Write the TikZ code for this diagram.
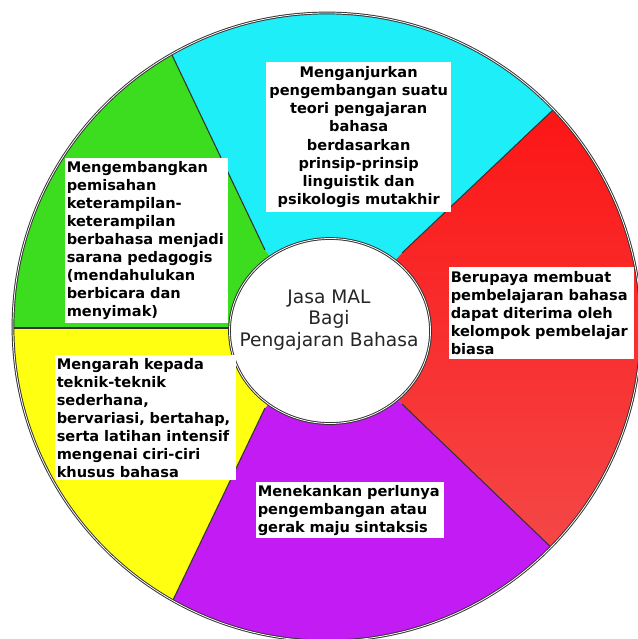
\documentclass[tikz,border=0pt]{standalone}
\usepackage{fontspec}
\setmainfont{DejaVu Sans}
\usepackage{tikz}
\usetikzlibrary{calc}
\definecolor{wheelCyan}{HTML}{1EEEF8}
\definecolor{wheelRedTop}{HTML}{FF0505}
\definecolor{wheelRedLow}{HTML}{F25858}
\definecolor{wheelPurple}{HTML}{C31BF3}
\definecolor{wheelYellow}{HTML}{FFFF12}
\definecolor{wheelGreen}{HTML}{3CDC1E}
\definecolor{rimGrey}{HTML}{333333}
\tikzset{
  sectorline/.style={draw=rimGrey, line width=0.6pt},
  rimline/.style={draw=rimGrey, double=white, double distance=0.45pt, line width=0.55pt},
  notebox/.style={rectangle, fill=white, anchor=north west, inner xsep=0.8pt, inner ysep=1.5pt, font=\fontsize{8.3}{10.3}\selectfont\bfseries, text=black, text width=#1, align=left},
  hubtext/.style={font=\fontsize{10.6}{12.2}\selectfont, text=black!85, align=center, inner sep=0pt},
}

\begin{document}
\begin{tikzpicture}[x=0.02cm,y=-0.02cm]
  \useasboundingbox (0,0) rectangle (638,639);
  \fill[white] (0,0) rectangle (638,639);

  % --- inner and outer ends of the dividing lines ---
  \coordinate (hubc) at (330,331);
  \coordinate (in1) at (265,250);  \coordinate (out1) at (172,55);
  \coordinate (in2) at (402,253);  \coordinate (out2) at (555,108);
  \coordinate (in3) at (402,404);  \coordinate (out3) at (557,553);
  \coordinate (in4) at (265,408);  \coordinate (out4) at (173,600);
  \coordinate (in5) at (229,328);  \coordinate (out5) at (13,328);
  \foreach \i in {1,...,5} { \coordinate (far\i) at ($(in\i)!2!(out\i)$); }

  % --- sectors ---
  \begin{scope}
    \clip (327,327) circle[radius=314];
    \fill[wheelCyan] (hubc) -- (in1) -- (far1) -- (330,-300) -- (far2) -- (in2) -- cycle;
    \shade[top color=wheelRedTop, bottom color=wheelRedLow] (hubc) -- (in2) -- (far2) -- (1000,330) -- (far3) -- (in3) -- cycle;
    \fill[wheelPurple] (hubc) -- (in3) -- (far3) -- (330,1000) -- (far4) -- (in4) -- cycle;
    \fill[wheelYellow] (hubc) -- (in4) -- (far4) -- (-200,700) -- (far5) -- (in5) -- cycle;
    \fill[wheelGreen] (hubc) -- (in5) -- (far5) -- (-200,-50) -- (far1) -- (in1) -- cycle;
    \foreach \i in {1,...,5} { \draw[sectorline] (in\i) -- (out\i); }
  \end{scope}
  \draw[rimline] (327,327) circle[radius=314];

  % --- hub ---
  \filldraw[fill=white, rimline] (hubc) ellipse[x radius=100.5, y radius=92.5];
  \node[hubtext] (hub) at (329,320) {Jasa MAL\\Bagi\\Pengajaran Bahasa};

  % --- text boxes ---
  \node[notebox=103.5pt, align=center, minimum height=85pt] (teori) at (266,62) {Menganjurkan\\pengembangan suatu\\teori pengajaran\\bahasa\\berdasarkan\\prinsip-prinsip\\linguistik dan\\psikologis mutakhir};
  \node[notebox=91pt, minimum height=93pt] (pemisahan) at (65,158) {Mengembangkan\\pemisahan\\keterampilan-\\keterampilan\\berbahasa menjadi\\sarana pedagogis\\(mendahulukan\\berbicara dan\\menyimak)};
  \node[notebox=103.5pt, minimum height=52pt] (diterima) at (449,267) {Berupaya membuat\\pembelajaran bahasa\\dapat diterima oleh\\kelompok pembelajar\\biasa};
  \node[notebox=101pt, minimum height=71pt] (teknik) at (55,355) {Mengarah kepada\\teknik-teknik\\sederhana,\\bervariasi, bertahap,\\serta latihan intensif\\mengenai ciri-ciri\\khusus bahasa};
  \node[notebox=105pt, minimum height=31pt] (sintaksis) at (256,482) {Menekankan perlunya\\pengembangan atau\\gerak maju sintaksis};
\end{tikzpicture}
\end{document}
